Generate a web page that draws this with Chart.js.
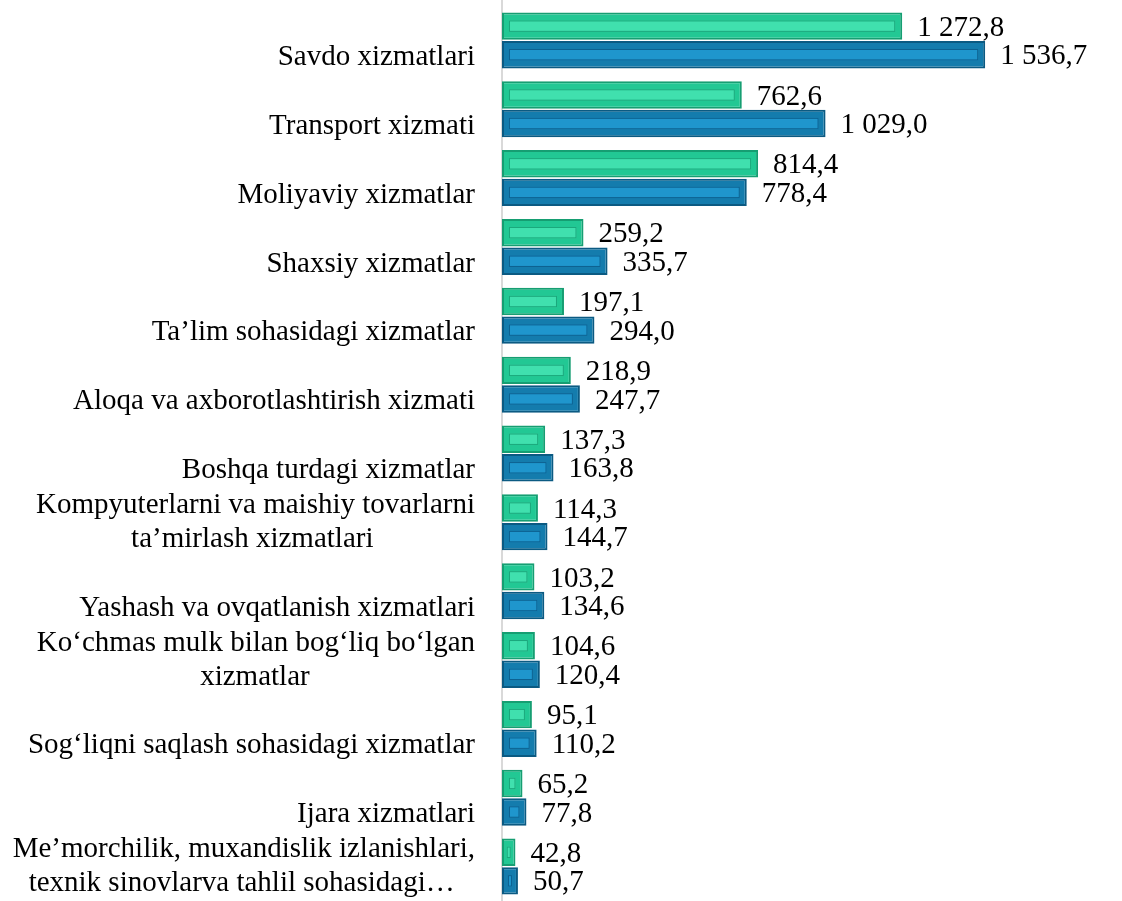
<!DOCTYPE html>
<html>
<head>
<meta charset="utf-8">
<script src="https://cdn.jsdelivr.net/npm/chart.js@4"></script>
<style>
  body { margin: 0; background: #fff; }
  #wrap { width: 1122px; height: 901px; position: relative; }
</style>
</head>
<body>
<div id="wrap"><canvas id="servicesChart"></canvas></div>
<script>
// categories (two-line labels keep Excel's look: first line blank for single ones)
const categories = [
  ['', 'Savdo xizmatlari'],
  ['', 'Transport xizmati'],
  ['', 'Moliyaviy xizmatlar'],
  ['', 'Shaxsiy xizmatlar'],
  ['', 'Ta\u2019lim sohasidagi xizmatlar'],
  ['', 'Aloqa va axborotlashtirish xizmati'],
  ['', 'Boshqa turdagi xizmatlar'],
  ['Kompyuterlarni va maishiy tovarlarni', 'ta\u2019mirlash xizmatlari' + '\u2003'.repeat(3) + '\u2002'],
  ['', 'Yashash va ovqatlanish xizmatlari'],
  ['Ko\u2018chmas mulk bilan bog\u2018liq bo\u2018lgan', 'xizmatlar' + '\u2003'.repeat(5) + '\u2002\u2009'],
  ['', 'Sog\u2018liqni saqlash sohasidagi xizmatlar'],
  ['', 'Ijara xizmatlari'],
  ['Me\u2019morchilik, muxandislik izlanishlari,', 'texnik sinovlarva tahlil sohasidagi\u2026\u2002\u2009']
];

const greenValues = [1272.8, 762.6, 814.4, 259.2, 197.1, 218.9, 137.3, 114.3, 103.2, 104.6, 95.1, 65.2, 42.8];
const blueValues  = [1536.7, 1029.0, 778.4, 335.7, 294.0, 247.7, 163.8, 144.7, 134.6, 120.4, 110.2, 77.8, 50.7];

const FONT = '"Liberation Serif", "Times New Roman", serif';

function fmt(v) {
  const parts = v.toFixed(1).split('.');
  const intPart = parts[0].replace(/\B(?=(\d{3})+(?!\d))/g, ' ');
  return intPart + ',' + parts[1];
}

// inner bevel + value labels
const barDecor = {
  id: 'barDecor',
  beforeDatasetsDraw(chart) {
    // axis line runs to the top edge like the original
    const ctx = chart.ctx;
    const x = chart.scales.y.right;
    ctx.save();
    ctx.strokeStyle = '#d9d9d9';
    ctx.lineWidth = 2;
    ctx.beginPath();
    ctx.moveTo(x, 0);
    ctx.lineTo(x, chart.chartArea.top);
    ctx.stroke();
    ctx.restore();
  },
  afterDatasetsDraw(chart) {
    const ctx = chart.ctx;
    chart.data.datasets.forEach((ds, di) => {
      const meta = chart.getDatasetMeta(di);
      meta.data.forEach((el, i) => {
        const p = el.getProps(['x', 'y', 'base', 'height'], true);
        const left = Math.min(p.base, p.x), right = Math.max(p.base, p.x);
        const w = right - left;
        const top = p.y - p.height / 2;
        let inset = Math.min(7, w / 2 - 2);
        if (inset > 1) {
          ctx.save();
          ctx.fillStyle = ds.innerColor;
          ctx.strokeStyle = ds.innerStroke;
          ctx.lineWidth = 1;
          const ih = p.height - 2 * 8;
          const iw = Math.max(2, w - 2 * inset);
          ctx.fillRect(left + inset, top + 8, iw, ih);
          ctx.strokeRect(left + inset + 0.5, top + 8.5, iw - 1, ih - 1);
          ctx.restore();
        }
        ctx.save();
        ctx.fillStyle = '#000';
        ctx.font = '29px ' + FONT;
        ctx.textAlign = 'left';
        ctx.textBaseline = 'middle';
        ctx.fillText(fmt(ds.data[i]), right + 15, p.y + 2);
        ctx.restore();
      });
    });
  }
};

const config = {
  type: 'bar',
  data: {
    labels: categories,
    datasets: [
      {
        label: 'green',
        data: greenValues,
        backgroundColor: '#22c894',
        borderColor: '#169e72',
        borderWidth: 2,
        borderSkipped: false,
        innerColor: '#40e0ae',
        innerStroke: '#1aa77b'
      },
      {
        label: 'blue',
        data: blueValues,
        backgroundColor: '#147cad',
        borderColor: '#0b5a82',
        borderWidth: 2,
        borderSkipped: false,
        innerColor: '#1f96cd',
        innerStroke: '#0d6190'
      }
    ]
  },
  options: {
    indexAxis: 'y',
    responsive: true,
    maintainAspectRatio: false,
    animation: false,
    layout: { padding: { top: 6, right: 54, bottom: 0, left: 0 } },
    datasets: {
      bar: { categoryPercentage: 0.83, barPercentage: 0.96 }
    },
    scales: {
      x: {
        display: false,
        min: 0,
        max: 1800
      },
      y: {
        afterFit(scale) {
          scale.width = 502;
          scale.paddingTop = 0;
          scale.paddingBottom = 0;
        },
        grid: { display: false, drawTicks: false },
        border: { display: true, color: '#d9d9d9', width: 2 },
        ticks: {
          padding: 27,
          color: '#000',
          autoSkip: false,
          font: { family: FONT, size: 29, lineHeight: 1.17 }
        }
      }
    },
    plugins: {
      legend: { display: false },
      tooltip: { enabled: false }
    }
  },
  plugins: [barDecor]
};

const servicesChart = new Chart(document.getElementById('servicesChart'), config);
</script>
</body>
</html>
